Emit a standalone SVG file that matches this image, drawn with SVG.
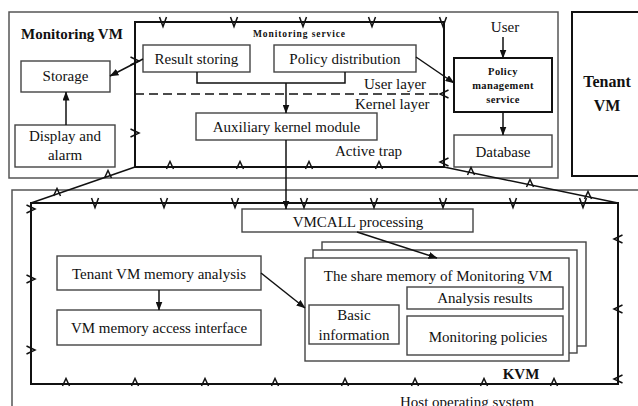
<svg xmlns="http://www.w3.org/2000/svg" xmlns:xlink="http://www.w3.org/1999/xlink" width="638" height="406" viewBox="0 0 638 406">
  <style>
    text { font-family: "Liberation Serif", "Times New Roman", "DejaVu Serif", serif; fill: #111; }
    .t { font-size: 15px; }
    .c { text-anchor: middle; }
    .b { font-weight: bold; }
    .frame { fill: none; stroke: #555; stroke-width: 1.5; }
    .box { fill: #fff; stroke: #444; stroke-width: 1.4; }
    .heavy { fill: none; stroke: #111; stroke-width: 2; }
    .hbox { fill: #fff; stroke: #111; stroke-width: 2; }
    .edge { fill: none; stroke: #111; stroke-width: 1.5; }
    .tick { fill: none; stroke: #111; stroke-width: 1.5; }
  </style>
  <defs>
    <marker id="ah" markerUnits="userSpaceOnUse" markerWidth="9" markerHeight="7" refX="8.5" refY="3.5" orient="auto">
      <path d="M0,0 L9,3.5 L0,7 z" fill="#111"/>
    </marker>
    <!-- trap ticks placed along the boundaries -->
    <path id="tv" class="tick" d="M-3.5,-5 L0,4.5 L3.5,-5"/>
    <path id="tu" class="tick" d="M-3.5,2 L0,-5.5 L3.5,2"/>
    <path id="tr" class="tick" d="M-4.5,-4 L4,0 L-4.5,4"/>
    <path id="tl" class="tick" d="M4.5,-4 L-4,0 L4.5,4"/>
  </defs>

  <!-- outer regions -->
  <g id="monitoring-vm">
    <rect class="frame" x="9" y="12" width="549" height="166"/>
    <text class="b" x="21" y="39" font-size="15">Monitoring VM</text>
  </g>
  <g id="tenant-vm">
    <rect class="heavy" x="572" y="12" width="80" height="164"/>
    <text class="b c" x="607" y="87" font-size="16">Tenant</text>
    <text class="b c" x="607" y="111" font-size="16">VM</text>
  </g>
  <g id="host-os">
    <rect class="frame" x="12" y="190" width="640" height="240"/>
    <text class="t" x="400" y="407">Host operating system</text>
  </g>

  <!-- monitoring service boundary -->
  <g id="monitoring-service">
    <rect class="heavy" x="135" y="22" width="309" height="145"/>
    <text class="b" x="253" y="36.5" font-size="9.5" textLength="92" lengthAdjust="spacing">Monitoring service</text>
    <line x1="135" y1="94" x2="444" y2="94" stroke="#111" stroke-width="1.5" stroke-dasharray="9,5"/>
    <text class="t" x="364" y="89">User layer</text>
    <text class="t" x="355" y="109">Kernel layer</text>
    <text class="t" x="335" y="156">Active trap</text>
  </g>

  <!-- KVM boundary -->
  <g id="kvm">
    <rect class="heavy" x="31" y="203" width="587" height="181"/>
    <text class="b c" x="521" y="379" font-size="15">KVM</text>
  </g>

  <g id="storage">
    <rect class="box" x="21" y="61" width="89" height="31"/>
    <text class="t c" x="65.5" y="81">Storage</text>
  </g>
  <g id="display-alarm">
    <rect class="box" x="15" y="125" width="100" height="42"/>
    <text class="t c" x="65" y="141">Display and</text>
    <text class="t c" x="65" y="160">alarm</text>
  </g>
  <g id="result-storing">
    <rect class="box" x="143" y="45" width="107" height="27"/>
    <text class="t c" x="196.5" y="64">Result storing</text>
  </g>
  <g id="policy-distribution">
    <rect class="box" x="274" y="45" width="142" height="27"/>
    <text class="t c" x="345" y="64">Policy distribution</text>
  </g>
  <g id="aux-kernel-module">
    <rect class="box" x="196" y="113" width="181" height="27"/>
    <text class="t c" x="286.5" y="132">Auxiliary kernel module</text>
  </g>
  <g id="user">
    <text class="t c" x="505" y="32">User</text>
  </g>
  <g id="policy-management">
    <rect class="hbox" x="454" y="58" width="98" height="54"/>
    <text class="b c" x="503" y="75" font-size="10.5" letter-spacing="0.4">Policy</text>
    <text class="b c" x="503" y="89" font-size="10.5" letter-spacing="0.4">management</text>
    <text class="b c" x="503" y="103" font-size="10.5" letter-spacing="0.4">service</text>
  </g>
  <g id="database">
    <rect class="box" x="454" y="135" width="98" height="32"/>
    <text class="t c" x="503" y="157">Database</text>
  </g>
  <g id="vmcall">
    <rect class="box" x="242" y="209" width="231" height="23"/>
    <text class="t c" x="358" y="227">VMCALL processing</text>
  </g>
  <g id="tenant-analysis">
    <rect class="box" x="57" y="256" width="204" height="34"/>
    <text class="t c" x="159" y="279">Tenant VM memory analysis</text>
  </g>
  <g id="memory-access">
    <rect class="box" x="57" y="310" width="204" height="35"/>
    <text class="t c" x="159" y="333">VM memory access interface</text>
  </g>
  <g id="shared-memory">
    <rect class="box" x="322" y="242" width="264" height="104"/>
    <rect class="box" x="313" y="250" width="264" height="103"/>
    <rect class="box" x="305" y="258" width="264" height="103"/>
    <text class="t c" x="438" y="281">The share memory of Monitoring VM</text>
  </g>
  <g id="analysis-results">
    <rect class="box" x="407" y="287" width="156" height="22"/>
    <text class="t c" x="485" y="303">Analysis results</text>
  </g>
  <g id="monitoring-policies">
    <rect class="box" x="407" y="316" width="156" height="39"/>
    <text class="t c" x="488" y="342">Monitoring policies</text>
  </g>
  <g id="basic-information">
    <rect class="box" x="309" y="305" width="90" height="39"/>
    <text class="t c" x="354" y="320">Basic</text>
    <text class="t c" x="354" y="340">information</text>
  </g>

  <!-- connectors -->
  <g id="connectors">
    <path class="edge" d="M143,59 L110,76" marker-end="url(#ah)"/>
    <path class="edge" d="M66,125 V92" marker-end="url(#ah)"/>
    <path class="edge" d="M197,72 V83 H345 V72"/>
    <path class="edge" d="M286,83 V113" marker-end="url(#ah)"/>
    <path class="edge" d="M416,57 L454,83" marker-end="url(#ah)"/>
    <path class="edge" d="M503,37 V58" marker-end="url(#ah)"/>
    <path class="edge" d="M503,112 V135" marker-end="url(#ah)"/>
    <path class="edge" d="M286,140 V209" marker-end="url(#ah)"/>
    <path class="edge" d="M357,232 L437,258" marker-end="url(#ah)"/>
    <path class="edge" d="M261,273 L305,308" marker-end="url(#ah)"/>
    <path class="edge" d="M159,290 V310" marker-end="url(#ah)"/>
    <!-- links between the monitoring service and KVM boundaries -->
    <path class="edge" d="M135,167 L31,203"/>
    <path class="edge" d="M444,167 L618,203"/>
  </g>

  <!-- trap ticks -->
  <g id="traps">
    <use xlink:href="#tv" x="163" y="22"/>
    <use xlink:href="#tv" x="234" y="22"/>
    <use xlink:href="#tv" x="303" y="22"/>
    <use xlink:href="#tv" x="372" y="22"/>
    <use xlink:href="#tv" x="443" y="22"/>
    <use xlink:href="#tu" x="170" y="167"/>
    <use xlink:href="#tu" x="240" y="167"/>
    <use xlink:href="#tu" x="309" y="167"/>
    <use xlink:href="#tu" x="379" y="167"/>
    <use xlink:href="#tr" x="135" y="61"/>
    <use xlink:href="#tr" x="135" y="133"/>
    <use xlink:href="#tl" x="444" y="94"/>
    <use xlink:href="#tl" x="444" y="162"/>
    <use xlink:href="#tu" x="108" y="176"/>
    <use xlink:href="#tu" x="57" y="194"/>
    <use xlink:href="#tu" x="471" y="173"/>
    <use xlink:href="#tu" x="530" y="185"/>
    <use xlink:href="#tu" x="588" y="197"/>
    <use xlink:href="#tv" x="95" y="203"/>
    <use xlink:href="#tv" x="164" y="203"/>
    <use xlink:href="#tv" x="235" y="203"/>
    <use xlink:href="#tv" x="304" y="203"/>
    <use xlink:href="#tv" x="374" y="203"/>
    <use xlink:href="#tv" x="443" y="203"/>
    <use xlink:href="#tv" x="513" y="203"/>
    <use xlink:href="#tv" x="583" y="203"/>
    <use xlink:href="#tr" x="31" y="209"/>
    <use xlink:href="#tr" x="31" y="279"/>
    <use xlink:href="#tr" x="31" y="350"/>
    <use xlink:href="#tu" x="66" y="384"/>
    <use xlink:href="#tu" x="135" y="384"/>
    <use xlink:href="#tu" x="205" y="384"/>
    <use xlink:href="#tu" x="275" y="384"/>
    <use xlink:href="#tu" x="345" y="384"/>
    <use xlink:href="#tu" x="415" y="384"/>
    <use xlink:href="#tu" x="484" y="384"/>
    <use xlink:href="#tu" x="554" y="384"/>
    <use xlink:href="#tl" x="618" y="239"/>
    <use xlink:href="#tl" x="618" y="309"/>
    <use xlink:href="#tl" x="618" y="379"/>
  </g>
</svg>
